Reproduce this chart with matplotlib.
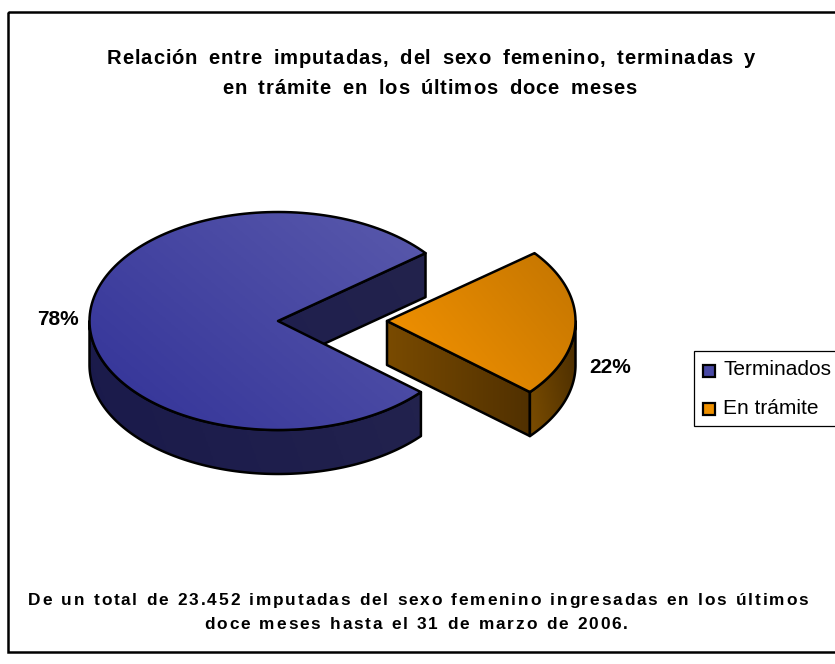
import numpy as np
import matplotlib
matplotlib.use("Agg")
import matplotlib.pyplot as plt
from matplotlib.colors import LinearSegmentedColormap
from matplotlib.patches import Polygon, Rectangle
from matplotlib.text import Text

categories = ["Terminados", "En trámite"]
values = [78, 22]
labels = ["78%", "22%"]
title_lines = ["Relación entre imputadas, del sexo femenino, terminadas y",
               "en trámite en los últimos doce meses"]
note_lines = ["De un total de 23.452 imputadas del sexo femenino ingresadas en los últimos",
              "doce meses hasta el 31 de marzo de 2006."]

plt.rcParams["font.family"] = ["Liberation Sans", "DejaVu Sans"]
W, H = 835, 664
fig = plt.figure(figsize=(W / 100, H / 100), dpi=100, facecolor="white")
ax = fig.add_axes([0, 0, 1, 1])
ax.set_xlim(0, W); ax.set_ylim(H, 0); ax.axis("off")

RX, RY, DEPTH = 188.5, 109.0, 44.0
CENTERS = [(278.0, 321.0), (387.0, 321.0)]
END_DEG = 38.5  # upper boundary of the exploded slice
share = 360.0 * values[1] / sum(values)
a_hi = END_DEG
a_lo = END_DEG - share


class SpacedText(Text):
    """One centred text artist drawn with extra letter and word spacing (pixels)."""

    def __init__(self, x, y, s, spacing, word_extra, **kw):
        super().__init__(x, y, s, ha="center", va="baseline", **kw)
        self.spacing = spacing
        self.word_extra = word_extra

    def _extra(self, s):
        return self.spacing * max(len(s) - 1, 0) + self.word_extra * s.count(" ")

    def draw(self, renderer):
        s = self.get_text()
        xc, y = self.get_position()
        fp = self.get_fontproperties()
        width = lambda t: renderer.get_text_width_height_descent(t, fp, False)[0]
        left = xc - (width(s) + self._extra(s)) / 2
        self.set_ha("left")
        for i, ch in enumerate(s):
            if ch != " ":
                head = s[:i + 1]
                self.set_position((left + width(head) - width(ch) + self._extra(head), y))
                self.set_text(ch)
                super().draw(renderer)
        self.set_text(s)
        self.set_ha("center")
        self.set_position((xc, y))

    def get_window_extent(self, renderer=None, dpi=None):
        bb = super().get_window_extent(renderer, dpi)
        pad = self._extra(self.get_text()) / 2
        return bb.from_extents(bb.x0 - pad, bb.y0, bb.x1 + pad, bb.y1)


def spaced(x, y, s, spacing, word_extra, size):
    t = SpacedText(x, y, s, spacing, word_extra, fontsize=size, fontweight="bold",
                   color="black", zorder=10)
    ax.add_artist(t)


def arc(c, a0, a1, dy=0.0, n=160):
    t = np.radians(np.linspace(a0, a1, n))
    return np.c_[c[0] + RX * np.cos(t), c[1] - RY * np.sin(t) + dy]


def grad_poly(pts, c0, c1, angle, z):
    """Polygon filled with a linear gradient from c0 to c1 along angle (deg)."""
    pts = np.asarray(pts)
    x0, y0 = pts.min(0) - 2
    x1, y1 = pts.max(0) + 2
    xx, yy = np.meshgrid(np.linspace(x0, x1, 200), np.linspace(y0, y1, 200))
    d = np.cos(np.radians(angle)) * xx - np.sin(np.radians(angle)) * yy
    d = (d - d.min()) / (d.max() - d.min())
    cmap = LinearSegmentedColormap.from_list("g", [c0, c1])
    im = ax.imshow(d, extent=(x0, x1, y1, y0), cmap=cmap, aspect="auto",
                   zorder=z, interpolation="bilinear", vmin=0, vmax=1)
    p = Polygon(pts, closed=True, fc="none", ec="black", lw=1.8, zorder=z + 0.1, joinstyle="round")
    ax.add_patch(p)
    im.set_clip_path(p)


# Big slice (Terminados)
c = CENTERS[0]
a_start, a_end = a_hi, a_lo + 360
p_hi = arc(c, a_hi, a_hi, n=1)[0]
grad_poly([c, p_hi, p_hi + [0, DEPTH], (c[0], c[1] + DEPTH)], "#1f1f4e", "#23234c", 30, 2)
grad_poly(np.r_[arc(c, 180, a_end), arc(c, a_end, 180, DEPTH)], "#1a1a4b", "#23234e", 20, 2.5)
grad_poly(np.r_[[c], arc(c, a_start, a_end)], "#323298", "#5a5aac", 50, 3)

# Exploded slice (En trámite)
c = CENTERS[1]
p_lo = arc(c, a_lo, a_lo, n=1)[0]
grad_poly([c, p_lo, p_lo + [0, DEPTH], (c[0], c[1] + DEPTH)], "#7a4b00", "#503000", 0, 4)
grad_poly(np.r_[arc(c, a_lo, 0), arc(c, 0, a_lo, DEPTH)], "#7d4e00", "#472b00", 10, 4.5)
grad_poly(np.r_[[c], arc(c, a_lo, a_hi)], "#f89500", "#c27400", 40, 5)

ax.set_xlim(0, W); ax.set_ylim(H, 0)

# Chart frame
ax.add_patch(Rectangle((8, 12), 835, 640, fc="none", ec="black", lw=1.8, zorder=1))

# Titles and notes
spaced(431, 64, title_lines[0], 0.9, 4, 14.6)
spaced(429.5, 94, title_lines[1], 0.9, 4, 14.6)
spaced(418, 605, note_lines[0], 1.8, 1, 12.4)
spaced(416, 629, note_lines[1], 1.8, 1, 12.4)

# Data labels
tkw = dict(ha="center", va="baseline", fontweight="bold", color="black", zorder=10, fontsize=15)
ax.text(58, 325, labels[0], **tkw)
ax.text(610, 373, labels[1], **tkw)

# Legend
ax.add_patch(Rectangle((693.5, 350.5), 145, 75, fc="white", ec="black", lw=0.9, zorder=6))
for y, base, name, col in [(371, 375, categories[0], "#4848a4"), (409, 414, categories[1], "#ee9000")]:
    ax.add_patch(Rectangle((702.5, y - 6), 12, 12, fc=col, ec="black", lw=1.6, zorder=7))
    ax.text(723, base, name, fontsize=15, va="baseline", ha="left", color="black", zorder=7)

fig.savefig("out.png", dpi=100)
